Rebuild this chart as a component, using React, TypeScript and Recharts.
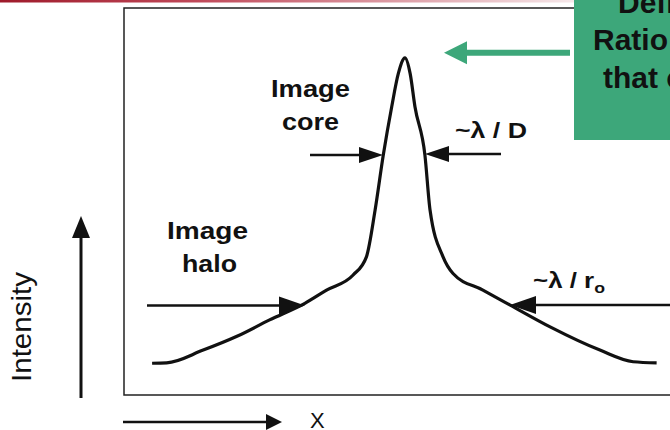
import { LineChart, Line, XAxis, YAxis, ReferenceArea } from 'recharts';

// offset from the image centre (arbitrary units) and relative intensity
const offsets = [
  -9.9, -9.33, -7.9, -6.6, -5.3, -3.92, -3.07, -2.03, -1.51, -1.17, -0.85, -0.52, -0.26, 0,
  0.2, 0.39, 0.78, 0.98, 1.49, 1.88, 3.05, 4.1, 5.68, 7.63, 8.93, 9.85,
];
const intensity = [
  8.2, 8.3, 11.6, 15.1, 19.4, 23.7, 27.1, 31.0, 35.7, 47.8, 62.0, 74.5, 83.1, 87.1,
  83.1, 74.5, 62.0, 47.8, 35.7, 31.4, 27.1, 23.3, 17.6, 11.6, 8.6, 8.3,
];

const data = offsets.map((x, i) => ({ x, y: intensity[i] }));

const FONT = '"Liberation Sans", Arial, sans-serif';
const INK = '#111';
const GREEN = '#3da77a';

function Arrow({ x1, x2, y, head = 24, half = 8, width = 2.5, color = INK }: any) {
  // horizontal arrow, tip at x2
  const dir = x2 > x1 ? 1 : -1;
  const base = x2 - dir * head;
  return (
    <g>
      <line x1={x1} y1={y} x2={base + dir * 2} y2={y} stroke={color} strokeWidth={width} />
      <polygon points={`${x2},${y} ${base},${y - half} ${base},${y + half}`} fill={color} />
    </g>
  );
}

function Overlay() {
  return (
    <svg
      width={670}
      height={430}
      style={{ position: 'absolute', left: 0, top: 0, pointerEvents: 'none' }}
      fontFamily={FONT}
    >
      <defs>
        <linearGradient id="redbar" x1="0" x2="1" y1="0" y2="0">
          <stop offset="0" stopColor="#9e1a2a" />
          <stop offset="0.35" stopColor="#c04a5a" />
          <stop offset="1" stopColor="#f6e8ea" />
        </linearGradient>
      </defs>
      <rect x={0} y={0} width={574} height={2.5} fill="url(#redbar)" />

      {/* green call-out box, cut by the page edge */}
      <rect x={574} y={0} width={100} height={140} fill={GREEN} />
      <g fontWeight="bold" fontSize={30} fill={INK}>
        <text x={618} y={13}>Defi</text>
        <text x={593} y={50}>Ratio</text>
        <text x={603} y={88}>that c</text>
      </g>
      <Arrow x1={570} x2={444} y={52.7} head={23} half={11.5} width={6} color={GREEN} />

      {/* core and halo labels */}
      <g fontWeight="bold" fill={INK} fontSize={23}>
        <text x={271} y={97} textLength={79} lengthAdjust="spacingAndGlyphs">Image</text>
        <text x={282} y={130} textLength={57} lengthAdjust="spacingAndGlyphs">core</text>
        <text x={455} y={138} fontSize={22} textLength={72} lengthAdjust="spacingAndGlyphs">~λ / D</text>
        <text x={167} y={238.5} textLength={81} lengthAdjust="spacingAndGlyphs">Image</text>
        <text x={182} y={271.7} textLength={55} lengthAdjust="spacingAndGlyphs">halo</text>
        <text x={533} y={288} fontSize={22} textLength={72} lengthAdjust="spacingAndGlyphs">
          ~λ / r<tspan fontSize={15} dy={5}>o</tspan>
        </text>
      </g>
      <Arrow x1={310} x2={383} y={155} />
      <Arrow x1={501} x2={425} y={154} />
      <Arrow x1={147} x2={305} y={305.5} head={26} half={9} />
      <Arrow x1={672} x2={510} y={305} head={26} half={9} />

      {/* axis arrows */}
      <line x1={81} y1={398} x2={81} y2={236} stroke={INK} strokeWidth={3} />
      <polygon points="81,216 72,238 90,238" fill={INK} />
      <text
        transform="translate(31,327) rotate(-90)"
        textAnchor="middle"
        fontSize={28}
        fill={INK}
        textLength={110}
        lengthAdjust="spacingAndGlyphs"
      >
        Intensity
      </text>
      <line x1={123} y1={422} x2={268} y2={422} stroke={INK} strokeWidth={2.5} />
      <polygon points="282,422 266,414 266,430" fill={INK} />
      <text x={310} y={428} fontSize={22} fill={INK}>X</text>
    </svg>
  );
}

export default function App() {
  return (
    <div
      style={{
        position: 'absolute',
        left: 0,
        top: 0,
        width: 670,
        height: 430,
        overflow: 'hidden',
        background: '#fff',
      }}
    >
      <LineChart width={700} height={430} data={data} margin={{ top: 8, right: 14, bottom: 35, left: 124 }}>
        <XAxis type="number" dataKey="x" domain={[-11, 11]} hide />
        <YAxis type="number" domain={[0, 100]} hide />
        <ReferenceArea x1={-11} x2={11} y1={0} y2={100} fill="none" stroke="#222" strokeWidth={1.5} />
        <Line
          type="monotone"
          dataKey="y"
          stroke={INK}
          strokeWidth={3.2}
          dot={false}
          isAnimationActive={false}
        />
      </LineChart>
      <Overlay />
    </div>
  );
}
